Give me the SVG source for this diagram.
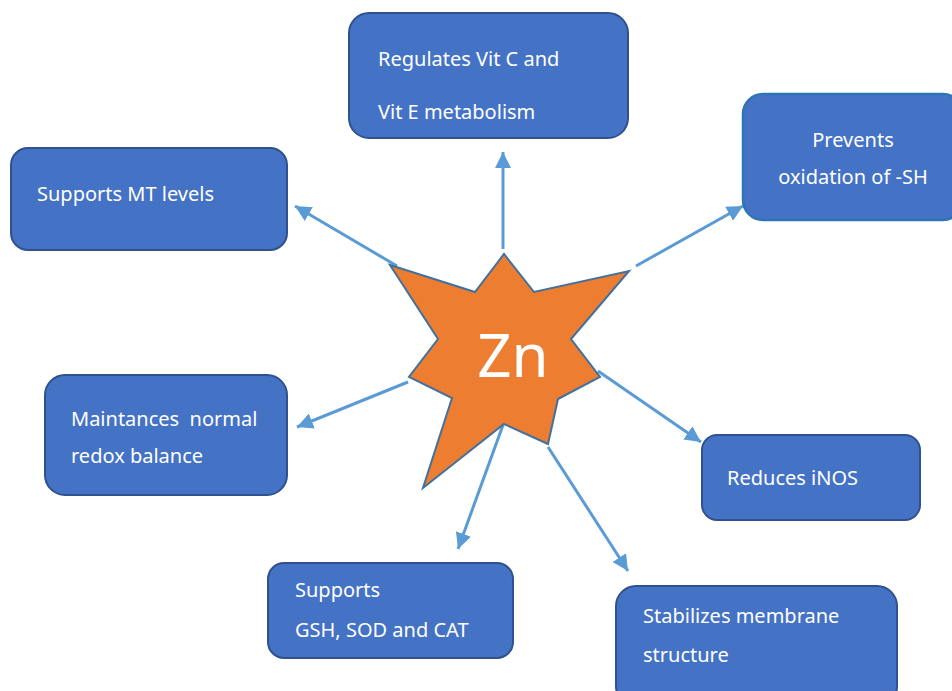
<svg xmlns="http://www.w3.org/2000/svg" width="952" height="691" viewBox="0 0 952 691">
<style>
.box{fill:#4472C4;stroke:#2F528F;stroke-width:2}
.box2{fill:#4472C4;stroke:#2E75B6;stroke-width:2.5}
.t{font-family:"Noto Sans","Open Sans",sans-serif;font-size:20px;fill:#FFFFFF}
.c{text-anchor:middle}
.arr{stroke:#5B9BD5;stroke-width:3;fill:none;marker-end:url(#ah)}
</style>
<defs>
<marker id="ah" markerUnits="userSpaceOnUse" markerWidth="18" markerHeight="16" refX="16" refY="8" orient="auto">
<path d="M0,0 L16,8 L0,16 Z" fill="#5B9BD5"/>
</marker>
</defs>
<rect width="952" height="691" fill="#FFFFFF"/>
<g id="connectors">
<line class="arr" x1="397" y1="266" x2="295" y2="206"/>
<line class="arr" x1="503" y1="249" x2="503" y2="152"/>
<line class="arr" x1="636" y1="266" x2="743" y2="206"/>
<line class="arr" x1="408" y1="382" x2="297" y2="427"/>
<line class="arr" x1="598" y1="371" x2="701" y2="442"/>
<line class="arr" x1="503" y1="425" x2="458" y2="549"/>
<line class="arr" x1="548" y1="447" x2="628" y2="571"/>
</g>
<g id="zn">
<polygon points="390,265 475,292 504,254 534,292 629,271 571,339 600,377 558,399 548,444 504,424 423,488 452,398 409,377 438,339" fill="#ED7D31" stroke="#41719C" stroke-width="2" stroke-linejoin="miter"/>
<text x="513" y="377" font-family="Noto Sans, Open Sans, sans-serif" font-size="60" fill="#FFFFFF" text-anchor="middle">Zn</text>
</g>
<g id="vitce">
<rect class="box" x="349" y="13" width="279" height="125" rx="20"/>
<text class="t" x="378" y="66">Regulates Vit C and</text>
<text class="t" x="378" y="119">Vit E metabolism</text>
</g>
<g id="mt">
<rect class="box" x="11" y="148" width="276" height="102" rx="17"/>
<text class="t" x="37" y="201">Supports MT levels</text>
</g>
<g id="sh">
<rect class="box2" x="743" y="94" width="220" height="126" rx="20"/>
<text class="t c" x="853" y="147">Prevents</text>
<text class="t c" x="853" y="184">oxidation of -SH</text>
</g>
<g id="redox">
<rect class="box" x="45" y="375" width="242" height="120" rx="20"/>
<text class="t" x="71" y="426" xml:space="preserve">Maintances  normal</text>
<text class="t" x="71" y="463">redox balance</text>
</g>
<g id="inos">
<rect class="box" x="702" y="435" width="218" height="85" rx="15"/>
<text class="t" x="727" y="485">Reduces iNOS</text>
</g>
<g id="gsh">
<rect class="box" x="268" y="563" width="245" height="95" rx="16"/>
<text class="t" x="295" y="597">Supports</text>
<text class="t" x="295" y="637">GSH, SOD and CAT</text>
</g>
<g id="membrane">
<rect class="box" x="616" y="586" width="281" height="120" rx="20"/>
<text class="t" x="643" y="623">Stabilizes membrane</text>
<text class="t" x="643" y="662">structure</text>
</g>
</svg>
